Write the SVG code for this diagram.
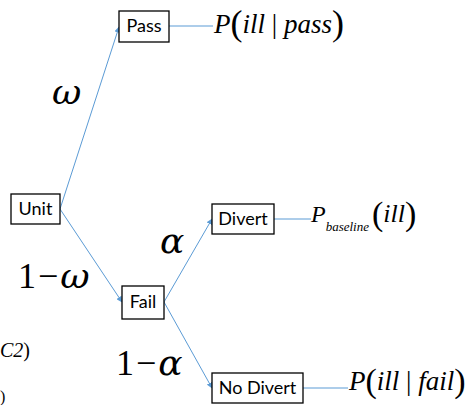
<svg xmlns="http://www.w3.org/2000/svg" width="471" height="405" viewBox="0 0 471 405">
<defs>
<marker id="arr" markerWidth="6" markerHeight="6" refX="5.5" refY="3" orient="auto" markerUnits="userSpaceOnUse">
<path d="M0,0 L6,3 L0,6 z" fill="#5B9BD5"/>
</marker>
<style>
.box{fill:#fff;stroke:#000;stroke-width:1.3}
.lbl{font-family:"Lato","Liberation Sans",sans-serif;font-size:18px;fill:#000;text-anchor:middle}
.con{stroke:#5B9BD5;stroke-width:1;fill:none}
.arrow{marker-end:url(#arr)}
.m{font-family:"Liberation Serif","Times New Roman",serif;font-style:italic;fill:#000}
.n{font-family:"Liberation Serif","Times New Roman",serif;font-style:normal;fill:#000}
.g{font-family:"DejaVu Serif",serif;font-style:italic;fill:#000}
</style>
</defs>
<rect width="471" height="405" fill="#fff"/>
<g id="connectors">
<line class="con arrow" x1="60" y1="209" x2="119" y2="27"/>
<line class="con arrow" x1="60" y1="209" x2="122" y2="302"/>
<line class="con arrow" x1="164" y1="302" x2="212" y2="219"/>
<line class="con arrow" x1="164" y1="302" x2="212" y2="388"/>
<line class="con" x1="169" y1="26" x2="213" y2="26"/>
<line class="con" x1="274" y1="219" x2="311" y2="219"/>
<line class="con" x1="303" y1="388" x2="348" y2="388"/>
</g>
<g id="unit"><rect class="box" x="11" y="194" width="49" height="30"/><text class="lbl" x="35.5" y="215">Unit</text></g>
<g id="pass"><rect class="box" x="119" y="11" width="50" height="31"/><text class="lbl" x="144" y="32">Pass</text></g>
<g id="fail"><rect class="box" x="122" y="286" width="42" height="33"/><text class="lbl" x="143" y="308">Fail</text></g>
<g id="divert"><rect class="box" x="212" y="204" width="62" height="30"/><text class="lbl" x="243" y="225">Divert</text></g>
<g id="nodivert"><rect class="box" x="212" y="373" width="91" height="30"/><text class="lbl" x="257.5" y="394">No Divert</text></g>
<g id="labels">
<text class="g" x="52" y="104" font-size="36">ω</text>
<text x="18" y="288" font-size="36"><tspan class="n">1</tspan><tspan class="n" dx="2">−</tspan><tspan class="g" dx="2">ω</tspan></text>
<text class="g" x="160" y="253" font-size="36">α</text>
<text x="116" y="375" font-size="36"><tspan class="n">1</tspan><tspan class="n" dx="2">−</tspan><tspan class="g" dx="2">α</tspan></text>
<text x="214" y="33"><tspan class="m" font-size="27">P</tspan><tspan class="n" font-size="36" dy="2">(</tspan><tspan class="m" font-size="27" dy="-2">ill</tspan><tspan class="n" font-size="27"> | </tspan><tspan class="m" font-size="27">pass</tspan><tspan class="n" font-size="36" dy="2">)</tspan></text>
<text x="311" y="222"><tspan class="m" font-size="24">P</tspan><tspan class="m" font-size="13" dy="9">baseline</tspan><tspan class="n" font-size="34" dy="-6" dx="3">(</tspan><tspan class="m" font-size="26" dy="-3">ill</tspan><tspan class="n" font-size="34" dy="3">)</tspan></text>
<text x="349" y="390"><tspan class="m" font-size="27">P</tspan><tspan class="n" font-size="34" dy="2">(</tspan><tspan class="m" font-size="27" dy="-2">ill</tspan><tspan class="n" font-size="27"> | </tspan><tspan class="m" font-size="27">fail</tspan><tspan class="n" font-size="34" dy="2">)</tspan></text>
<text class="m" x="0" y="357" font-size="20">C2<tspan class="n">)</tspan></text>
<text class="n" x="0" y="402" font-size="16">)</text>
</g>
</svg>
